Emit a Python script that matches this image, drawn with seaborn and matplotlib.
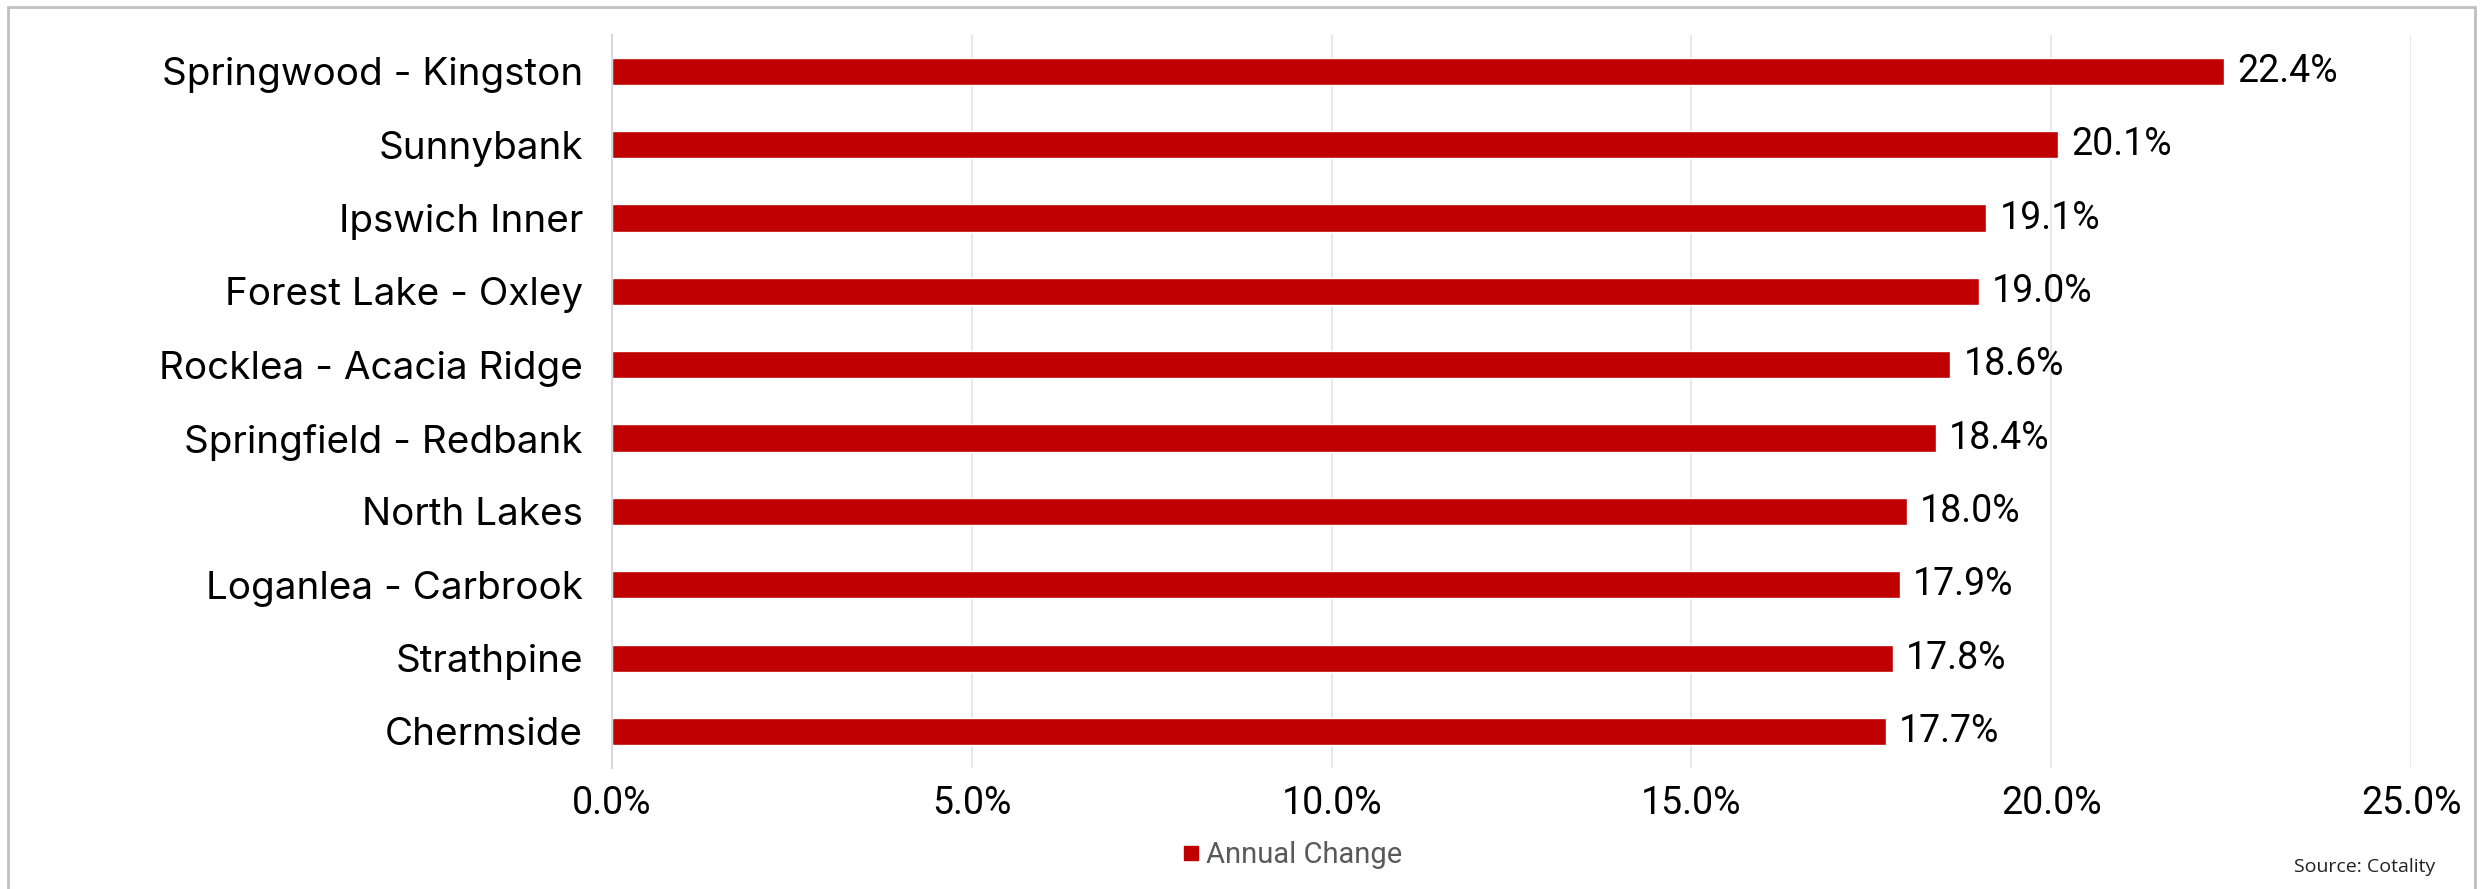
import matplotlib
matplotlib.use("Agg")
import matplotlib.pyplot as plt
import seaborn as sns
import pandas as pd
from matplotlib.patches import Rectangle
from matplotlib.lines import Line2D

regions = ["Springwood - Kingston", "Sunnybank", "Ipswich Inner", "Forest Lake - Oxley",
           "Rocklea - Acacia Ridge", "Springfield - Redbank", "North Lakes",
           "Loganlea - Carbrook", "Strathpine", "Chermside"]
annual_change = [22.4, 20.1, 19.1, 19.0, 18.6, 18.4, 18.0, 17.9, 17.8, 17.7]
x_ticks = [0, 5, 10, 15, 20, 25]
series_name = "Annual Change"
source_text = "Source: Cotality"

df = pd.DataFrame({"Region": regions, "Change": annual_change})

sns.set_theme(style="white")
plt.rcParams['font.family'] = ['Roboto', 'DejaVu Sans']

fig = plt.figure(figsize=(24.82, 8.89), dpi=100)
ax = fig.add_axes([0.2466, 0.136, 0.9714 - 0.2466, 0.961 - 0.136])

bar_color = "#C00000"
sns.barplot(data=df, x="Change", y="Region", color=bar_color, width=0.37,
            saturation=1, ax=ax, orient="h")

ax.set_xlim(0, 25)
ax.set_ylim(9.5, -0.5)
ax.set_xticks(x_ticks)
ax.set_xticklabels([f"{t:.1f}%" for t in x_ticks], fontsize=27, color="black")
ax.tick_params(axis="x", length=0, pad=12)
ax.tick_params(axis="y", length=0, pad=21)
for lab in ax.get_yticklabels():
    lab.set_fontfamily(['Inter', 'DejaVu Sans'])
    lab.set_fontsize(27.8)
    lab.set_color("black")
ax.set_xlabel("")
ax.set_ylabel("")
ax.grid(axis="x", color="#e8e8e8", linewidth=1.5)
ax.set_axisbelow(True)
for s in ["top", "right", "bottom"]:
    ax.spines[s].set_visible(False)
ax.spines["left"].set_color("#d9d9d9")
ax.spines["left"].set_linewidth(1.5)

for i, v in enumerate(annual_change):
    ax.text(v + 0.18, i, f"{v:.1f}%", va="center", ha="left", fontsize=27, color="black")

handle = Line2D([], [], marker="s", linestyle="none", markersize=10,
                markerfacecolor=bar_color, markeredgecolor=bar_color)
fig.legend([handle], [series_name], loc="center", bbox_to_anchor=(0.520, 0.038),
           frameon=False, fontsize=21, labelcolor="#595959", handletextpad=0.1,
           handlelength=0.8)

fig.text(0.981, 0.025, source_text, ha="right", va="center", fontsize=14,
         color="#222222", family=['Open Sans', 'DejaVu Sans'])

fig.patches.append(Rectangle((8 / 2482, -0.01), (2475 - 8) / 2482, 1 - 7 / 889 + 0.01,
                             transform=fig.transFigure, fill=False,
                             edgecolor="#bfbfbf", linewidth=2))

fig.savefig("out.png", dpi=100)
